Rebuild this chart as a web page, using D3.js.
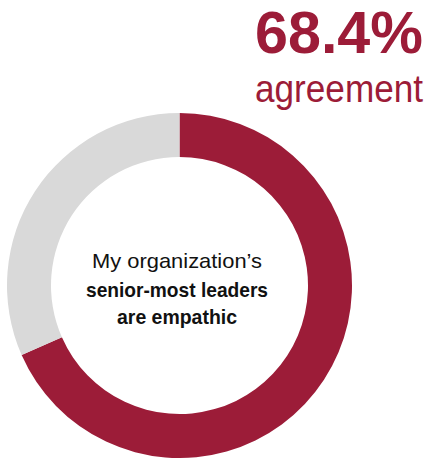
<!DOCTYPE html>
<html><head><meta charset="utf-8">
<script src="https://cdn.jsdelivr.net/npm/d3@7"></script>
<style>html,body{margin:0;padding:0;background:#fff;}svg{display:block;}</style>
</head><body>
<script>
const categories = ["Agree", "Other"];
const values = [68.4, 31.6];
const colors = ["#9C1C38", "#D9D9D9"];
const headline = "68.4%";
const subhead = "agreement";
const centerLines = ["My organization\u2019s", "senior-most leaders", "are empathic"];

const W = 429, H = 458;
const cx = 179.5, cy = 285.5, rOuter = 172.5, rInner = 128.5;

const svg = d3.select("body").append("svg").attr("width", W).attr("height", H);

const pie = d3.pie().sort(null).value(d => d)(values);
const arc = d3.arc().innerRadius(rInner).outerRadius(rOuter);
const color = d3.scaleOrdinal().domain(categories).range(colors);

svg.append("g").attr("transform", `translate(${cx},${cy})`)
  .selectAll("path").data(pie).join("path")
  .attr("d", arc)
  .attr("fill", (d, i) => color(categories[i]));

svg.append("text").attr("x", 423).attr("y", 53).attr("text-anchor", "end")
  .attr("font-family", "Liberation Sans, Arial, sans-serif").attr("font-weight", "bold")
  .attr("font-size", 60).attr("fill", colors[0])
  .attr("textLength", 168).attr("lengthAdjust", "spacingAndGlyphs")
  .text(headline);

svg.append("text").attr("x", 423).attr("y", 101.5).attr("text-anchor", "end")
  .attr("font-family", "Liberation Sans, Arial, sans-serif")
  .attr("font-size", 38).attr("fill", colors[0])
  .attr("textLength", 168).attr("lengthAdjust", "spacingAndGlyphs")
  .text(subhead);

const lineSpec = [
  {y: 267.5, w: 170, bold: false, size: 21},
  {y: 296.5, w: 182, bold: true, size: 20.5},
  {y: 323.5, w: 120, bold: true, size: 20.5}
];
svg.append("g").selectAll("text").data(centerLines).join("text")
  .attr("x", 177).attr("y", (d, i) => lineSpec[i].y)
  .attr("text-anchor", "middle")
  .attr("font-family", "Liberation Sans, Arial, sans-serif")
  .attr("font-weight", (d, i) => lineSpec[i].bold ? "bold" : "normal")
  .attr("font-size", (d, i) => lineSpec[i].size)
  .attr("textLength", (d, i) => lineSpec[i].w)
  .attr("lengthAdjust", "spacingAndGlyphs")
  .attr("fill", "#111")
  .text(d => d);
</script>
</body></html>
